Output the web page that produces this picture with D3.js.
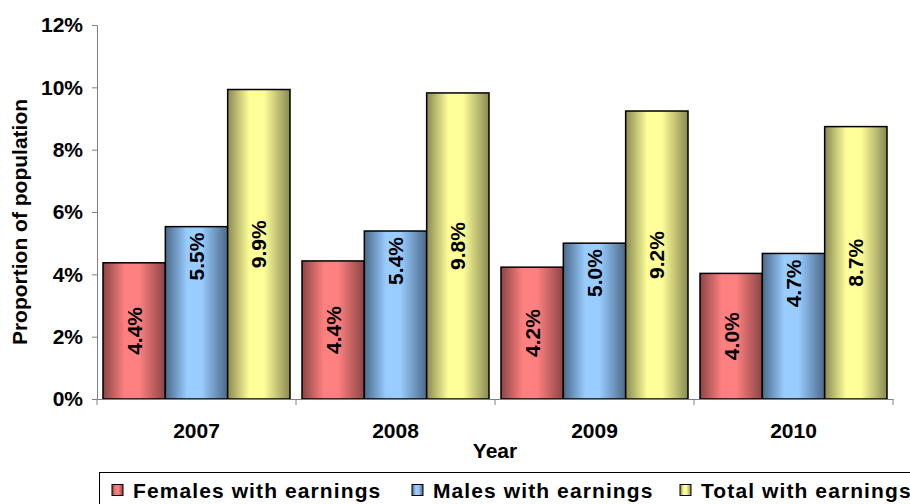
<!DOCTYPE html>
<html>
<head>
<meta charset="utf-8">
<script src="https://cdn.jsdelivr.net/npm/d3@7"></script>
<style>
  body { margin: 0; background: #fff; }
  text { font-family: "Liberation Sans", Arial, sans-serif; font-weight: bold; }
</style>
</head>
<body>
<div id="chart"></div>
<script>
// Data
const years = ["2007", "2008", "2009", "2010"];
const series = ["Females with earnings", "Males with earnings", "Total with earnings"];
const females = [0.0437, 0.0443, 0.0423, 0.0403];
const males = [0.0553, 0.0539, 0.0500, 0.0467];
const total = [0.0993, 0.0982, 0.0924, 0.0874];
const yTicks = [0, 0.02, 0.04, 0.06, 0.08, 0.10, 0.12];

const width = 910;
const height = 504;
const margin = { top: 25, right: 17, bottom: 105, left: 97 };

const svg = d3.select("#chart")
    .append("svg")
    .attr("width", width)
    .attr("height", height);

// Gradients (dark edges, light centre)
const colors = [
    { id: "gF", edge: "#8a4545", mid: "#ff8080" },
    { id: "gM", edge: "#4a6989", mid: "#99ccff" },
    { id: "gT", edge: "#8a8a52", mid: "#ffff99" }
];
const defs = svg.append("defs");
colors.forEach(c => {
    const g = defs.append("linearGradient")
        .attr("id", c.id)
        .attr("x1", 0).attr("x2", 1).attr("y1", 0).attr("y2", 0);
    g.append("stop").attr("offset", "0%").attr("stop-color", c.edge);
    g.append("stop").attr("offset", "35%").attr("stop-color", c.mid);
    g.append("stop").attr("offset", "58%").attr("stop-color", c.mid);
    g.append("stop").attr("offset", "100%").attr("stop-color", c.edge);
});

// Scales
const x0 = d3.scaleBand()
    .domain(years)
    .range([margin.left, width - margin.right]);

const x1 = d3.scaleBand()
    .domain(series)
    .range([6, x0.bandwidth() - 6]);

const y = d3.scaleLinear()
    .domain([0, 0.12])
    .range([height - margin.bottom, margin.top]);

const rows = years.map((yr, i) => ({
    year: yr,
    values: [
        { key: series[0], v: females[i], fill: "url(#gF)", pos: "center" },
        { key: series[1], v: males[i], fill: "url(#gM)", pos: "end" },
        { key: series[2], v: total[i], fill: "url(#gT)", pos: "center" }
    ]
}));

// Y axis
const yAxis = svg.append("g")
    .attr("transform", `translate(${margin.left},0)`)
    .call(d3.axisLeft(y).tickValues(yTicks).tickFormat(d3.format(".0%")).tickSize(5).tickSizeOuter(5));
yAxis.select(".domain").attr("stroke", "#808080");
yAxis.selectAll(".tick line").attr("stroke", "#808080");
yAxis.selectAll(".tick text")
    .attr("x", -14)
    .attr("font-size", 21)
    .attr("fill", "#000");

// Bars
const groups = svg.append("g")
    .selectAll("g")
    .data(rows)
    .enter().append("g")
    .attr("transform", d => `translate(${x0(d.year)},0)`);

groups.selectAll("rect")
    .data(d => d.values)
    .enter().append("rect")
    .attr("x", d => x1(d.key))
    .attr("y", d => y(d.v))
    .attr("width", x1.bandwidth())
    .attr("height", d => y(0) - y(d.v))
    .attr("fill", d => d.fill)
    .attr("stroke", "#000")
    .attr("stroke-width", 1.5);

// Value labels, rotated
groups.selectAll("text")
    .data(d => d.values)
    .enter().append("text")
    .attr("transform", d => {
        const cx = x1(d.key) + x1.bandwidth() / 2;
        const cy = d.pos === "end" ? y(d.v) + 6 : (y(d.v) + y(0)) / 2;
        return `translate(${cx},${cy})rotate(-90)`;
    })
    .attr("text-anchor", d => d.pos === "end" ? "end" : "middle")
    .attr("dy", "0.36em")
    .attr("font-size", 21)
    .text(d => d3.format(".1%")(d.v));

// X axis
const xAxis = svg.append("g")
    .attr("transform", `translate(0,${y(0)})`)
    .call(d3.axisBottom(x0).tickSize(0).tickSizeOuter(0));
xAxis.select(".domain").attr("stroke", "#808080");
xAxis.selectAll(".tick text")
    .attr("y", 24)
    .attr("font-size", 21)
    .attr("fill", "#000");
// category boundary ticks
const bounds = years.map(d => x0(d)).concat([x0(years[years.length - 1]) + x0.bandwidth()]);
svg.append("g")
    .selectAll("line")
    .data(bounds)
    .enter().append("line")
    .attr("x1", d => d)
    .attr("x2", d => d)
    .attr("y1", y(0))
    .attr("y2", y(0) + 6)
    .attr("stroke", "#808080");

// Axis titles
svg.append("text")
    .attr("x", 495)
    .attr("y", 458)
    .attr("text-anchor", "middle")
    .attr("font-size", 21)
    .text("Year");

svg.append("text")
    .attr("transform", "translate(27,222)rotate(-90)")
    .attr("text-anchor", "middle")
    .attr("font-size", 21)
    .text("Proportion of population");

// Legend
const legend = svg.append("g");
legend.append("rect")
    .attr("x", 99.5)
    .attr("y", 472.5)
    .attr("width", 830)
    .attr("height", 50)
    .attr("fill", "#fff")
    .attr("stroke", "#000");

const legendX = [112, 412, 680];
const item = legend.selectAll("g.item")
    .data(series)
    .enter().append("g")
    .attr("class", "item")
    .attr("transform", (d, i) => `translate(${legendX[i]},484.5)`);

item.append("rect")
    .attr("width", 11)
    .attr("height", 11)
    .attr("fill", (d, i) => `url(#${colors[i].id})`)
    .attr("stroke", "#000");

item.append("text")
    .attr("x", 21)
    .attr("y", 6)
    .attr("dy", "0.36em")
    .attr("font-size", 21)
    .attr("letter-spacing", 1.1)
    .text(d => d);
</script>
</body>
</html>
